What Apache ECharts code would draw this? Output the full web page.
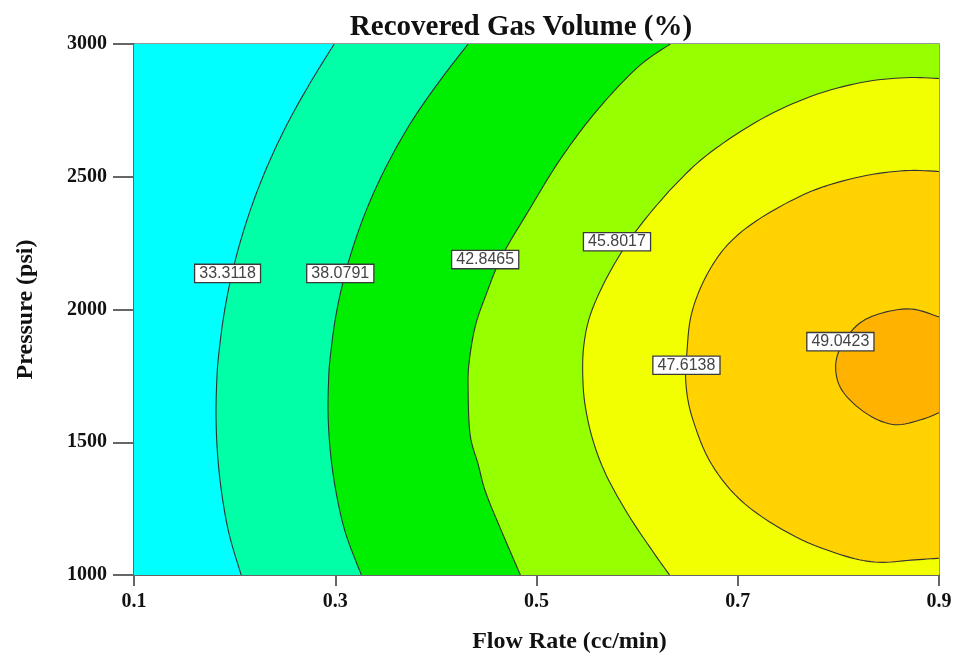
<!DOCTYPE html>
<html>
<head>
<meta charset="utf-8">
<title>Recovered Gas Volume (%)</title>
<script src="https://cdn.jsdelivr.net/npm/echarts@6/dist/echarts.min.js"></script>
<style>
  html, body { margin: 0; padding: 0; background: #ffffff; overflow: hidden; }
  #chart { width: 956px; height: 659px; }
</style>
</head>
<body>
<div id="chart"></div>
<script>
// Axis ranges and ticks
const flowMin = 0.1, flowMax = 0.9, flowStep = 0.2;
const pressMin = 1000, pressMax = 3000, pressStep = 500;

// Contour levels of recovered gas volume (%)
const levels = [33.3118, 38.0791, 42.8465, 45.8017, 47.6138, 49.0423];

// Contour traces [flow rate (cc/min), pressure (psi)], each running from the top/right edge round to the bottom/right edge
const contour33 = [[0.299,3000],[0.2771,2866],[0.2548,2717],[0.2358,2568],[0.2198,2419],[0.2068,2270],[0.1965,2121],[0.1890,1972],[0.1840,1823],[0.1823,1734],[0.1815,1600],[0.1831,1451],[0.1874,1302],[0.1946,1153],[0.2065,1000]];
const contour38 = [[0.432,3000],[0.4048,2866],[0.3774,2717],[0.3547,2568],[0.3358,2419],[0.3207,2270],[0.3089,2121],[0.3004,1972],[0.2951,1823],[0.2934,1734],[0.2929,1600],[0.2955,1451],[0.3013,1302],[0.3106,1153],[0.326,1000]];
const contour42 = [[0.633,3000],[0.601,2914],[0.561,2754],[0.524,2568],[0.492,2371],[0.465,2196],[0.449,2047],[0.439,1935],[0.433,1800],[0.432,1700],[0.434,1529],[0.442,1417],[0.449,1317],[0.462,1194],[0.484,1000]];
const contour45 = [[0.9,2870],[0.8664,2873],[0.8227,2855],[0.773,2803],[0.7233,2717],[0.6736,2594],[0.6408,2482],[0.609,2345],[0.5855,2222],[0.5665,2095],[0.5528,1972],[0.5469,1860],[0.546,1749],[0.5484,1637],[0.5561,1507],[0.5693,1376],[0.5912,1227],[0.6148,1093],[0.6322,1000]];
const contour47 = [[0.9,2520],[0.866,2523],[0.823,2501],[0.773,2445],[0.723,2345],[0.690,2244],[0.668,2121],[0.654,1983],[0.6495,1840],[0.6485,1720],[0.655,1590],[0.674,1417],[0.707,1268],[0.757,1145],[0.807,1071],[0.840,1048],[0.872,1056],[0.9,1063]];
const contour49 = [[0.9,1972],[0.872,2002],[0.840,1983],[0.817,1935],[0.800,1838],[0.798,1752],[0.807,1678],[0.830,1603],[0.856,1566],[0.882,1585],[0.9,1611]];
const contours = [contour33, contour38, contour42, contour45, contour47, contour49];

// Where each contour's value tag sits [flow rate, pressure]
const labelAnchors = [[0.193,2136],[0.305,2136],[0.449,2188],[0.580,2255],[0.649,1790],[0.802,1879]];

// Band fills, lowest band first
const bandColors = ['#00FFFF', '#00FFA6', '#00EE00', '#96FF00', '#F2FF00', '#FFD200', '#FFB300'];

// Catmull-Rom smoothing of a pixel polyline
function smoothPixels(pts, steps) {
  if (pts.length < 3) return pts.slice();
  const out = [];
  for (let i = 0; i < pts.length - 1; i++) {
    const p0 = pts[Math.max(i - 1, 0)], p1 = pts[i], p2 = pts[i + 1], p3 = pts[Math.min(i + 2, pts.length - 1)];
    for (let s = 0; s < steps; s++) {
      const t = s / steps, t2 = t * t, t3 = t2 * t;
      out.push([0, 1].map(k => 0.5 * ((2 * p1[k]) + (-p0[k] + p2[k]) * t +
        (2 * p0[k] - 5 * p1[k] + 4 * p2[k] - p3[k]) * t2 +
        (-p0[k] + 3 * p1[k] - 3 * p2[k] + p3[k]) * t3)));
    }
  }
  out.push(pts[pts.length - 1]);
  return out;
}

// Corners needed to close a contour along the right side of the plot
function rightClosure(pts) {
  const first = pts[0], last = pts[pts.length - 1];
  const corners = [];
  if (last[1] === pressMin) corners.push([flowMax, pressMin]);
  if (first[1] === pressMax) corners.push([flowMax, pressMax]);
  return corners;
}

const chart = echarts.init(document.getElementById('chart'), null, { renderer: 'canvas', width: 956, height: 659 });

const bandSeries = {
  type: 'custom',
  coordinateSystem: 'cartesian2d',
  clip: true,
  silent: true,
  z: 1,
  data: bandColors.map((c, i) => [i]),
  renderItem: function (params, api) {
    const idx = api.value(0);
    let pixels;
    if (idx === 0) {
      pixels = [[flowMin, pressMin], [flowMin, pressMax], [flowMax, pressMax], [flowMax, pressMin]].map(p => api.coord(p));
    } else {
      const pts = contours[idx - 1];
      const curve = smoothPixels(pts.map(p => api.coord(p)), 8);
      pixels = curve.concat(rightClosure(pts).map(p => api.coord(p)));
    }
    return {
      type: 'polygon',
      shape: { points: pixels },
      style: { fill: bandColors[idx], stroke: null }
    };
  }
};

const lineSeries = {
  type: 'custom',
  coordinateSystem: 'cartesian2d',
  clip: true,
  silent: true,
  z: 2,
  data: contours.map((c, i) => [i]),
  renderItem: function (params, api) {
    const idx = api.value(0);
    const curve = smoothPixels(contours[idx].map(p => api.coord(p)), 8);
    return {
      type: 'polyline',
      shape: { points: curve },
      style: { fill: null, stroke: '#333333', lineWidth: 1.1 }
    };
  }
};

const labelSeries = {
  type: 'scatter',
  z: 5,
  silent: true,
  symbolSize: 0,
  itemStyle: { opacity: 1 },
  data: labelAnchors.map((p, i) => [p[0], p[1], levels[i]]),
  label: {
    show: true,
    opacity: 1,
    position: 'inside',
    formatter: p => p.value[2].toFixed(4),
    fontFamily: 'Liberation Sans, Arial, sans-serif',
    fontSize: 16,
    color: '#444444',
    backgroundColor: '#ffffff',
    borderColor: '#3a3a3a',
    borderWidth: 1.3,
    padding: [1, 4, 0, 4],
    lineHeight: 16
  }
};

const serifFont = 'Liberation Serif, Times New Roman, serif';

chart.setOption({
  animation: false,
  backgroundColor: '#ffffff',
  title: {
    text: 'Recovered Gas Volume (%)',
    left: 516,
    textAlign: 'center',
    top: 8,
    textStyle: { fontFamily: serifFont, fontWeight: 'bold', fontSize: 29, color: '#111' }
  },
  grid: {
    left: 134, top: 44, width: 805, height: 537,
    show: true, borderColor: '#777', borderWidth: 1.5, backgroundColor: 'transparent'
  },
  xAxis: {
    type: 'value',
    min: flowMin, max: flowMax, interval: flowStep,
    name: 'Flow Rate (cc/min)',
    nameLocation: 'middle',
    nameGap: 55,
    nameTextStyle: { fontFamily: serifFont, fontWeight: 'bold', fontSize: 24, color: '#111', padding: [0, 0, 0, 66] },
    axisLine: { show: true, lineStyle: { color: '#666', width: 2 } },
    axisTick: { show: true, length: 11, lineStyle: { color: '#666', width: 2 } },
    axisLabel: {
      margin: 17,
      fontFamily: serifFont, fontWeight: 'bold', fontSize: 20, color: '#111',
      formatter: v => v.toFixed(1)
    },
    splitLine: { show: false }
  },
  yAxis: {
    type: 'value',
    min: pressMin, max: pressMax, interval: pressStep,
    name: 'Pressure (psi)',
    nameLocation: 'middle',
    nameGap: 96,
    nameTextStyle: { fontFamily: serifFont, fontWeight: 'bold', fontSize: 24, color: '#111' },
    axisLine: { show: true, lineStyle: { color: '#666', width: 2 } },
    axisTick: { show: true, length: 21, lineStyle: { color: '#666', width: 2 } },
    axisLabel: {
      margin: 27,
      fontFamily: serifFont, fontWeight: 'bold', fontSize: 20, color: '#111',
      formatter: v => String(v)
    },
    splitLine: { show: false }
  },
  series: [bandSeries, lineSeries, labelSeries]
});
</script>
</body>
</html>
